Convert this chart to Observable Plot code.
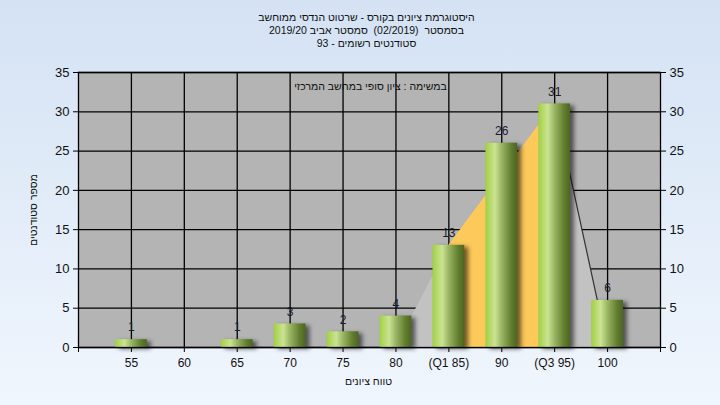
<!DOCTYPE html>
<html>
<head>
<meta charset="utf-8">
<script src="https://cdn.jsdelivr.net/npm/d3@7"></script>
<script src="https://cdn.jsdelivr.net/npm/@observablehq/plot@0.6"></script>
<style>
  html, body { margin: 0; padding: 0; background: #e4edf8; }
  #chart { width: 720px; height: 405px; }
</style>
</head>
<body>
<div id="chart"></div>
<script>
// ---- data ----
const grades = [55, 60, 65, 70, 75, 80, 85, 90, 95, 100];
const counts = [1, 0, 1, 3, 2, 4, 13, 26, 31, 6];
const gradeLabels = ["55", "60", "65", "70", "75", "80", "(Q1 85)", "90", "(Q3 95)", "100"];
const yTicks = [0, 5, 10, 15, 20, 25, 30, 35];
// frequency polygon (grade, count) outlining the shaded region
const polyGrades = [80, 85, 95, 100];
const polyCounts = [0, 13, 31, 0];
const q1Grade = 85, q3Grade = 95;
const titleLines = [
  "היסטוגרמת ציונים בקורס - שרטוט הנדסי ממוחשב",
  "בסמסטר  (02/2019)  סמסטר אביב 2019/20",
  "סטודנטים רשומים - 93"
];
const innerTitle = "במשימה : ציון סופי במחשב המרכזי";
const xTitle = "טווח ציונים";
const yTitle = "מספר סטודנטים";

const bars = grades.map((g, i) => ({grade: g, count: counts[i], label: gradeLabels[i]}));
const poly = polyGrades.map((g, i) => ({grade: g, count: polyCounts[i]}));
const leftPart = poly.filter(d => d.grade <= q1Grade);
const midPart = poly.filter(d => d.grade >= q1Grade && d.grade <= q3Grade);
const rightPart = poly.filter(d => d.grade >= q3Grade);
const labelFor = new Map(bars.map(d => [d.grade, d.label]));

const font = "'Liberation Sans', Arial, sans-serif";
const hebSize = 10.5;

const chart = Plot.plot({
  width: 720,
  height: 405,
  marginLeft: 78,
  marginRight: 60,
  marginTop: 72,
  marginBottom: 58,
  style: {background: "linear-gradient(#d4e2f4, #f0f6fd)", fontFamily: font, color: "#111", overflow: "visible"},
  x: {type: "linear", domain: [50, 105]},
  y: {domain: [0, 35]},
  marks: [
    Plot.frame({fill: "#b4b4b4", stroke: "none"}),
    Plot.ruleX(grades, {stroke: "#000", strokeWidth: 1.3}),
    Plot.ruleY(yTicks, {stroke: "#000", strokeWidth: 1.3}),
    Plot.areaY(leftPart, {x: "grade", y: "count", fill: "#c2c2c2"}),
    Plot.areaY(midPart, {x: "grade", y: "count", fill: "#fcc95a"}),
    Plot.areaY(rightPart, {x: "grade", y: "count", fill: "#c2c2c2"}),
    Plot.line(rightPart, {x: "grade", y: "count", stroke: "#333", strokeWidth: 1.2}),
    Plot.rectY(bars.filter(d => d.count > 0), {
      x1: d => d.grade - 1.5, x2: d => d.grade + 1.5, y1: 0, y2: "count",
      fill: "url(#barGrad)", ariaDescription: "bars"
    }),
    Plot.text(bars.filter(d => d.count > 0), {
      x: "grade", y: "count", text: d => String(d.count), dy: -12, fontSize: 12, fill: "#1a1a2a"
    }),
    Plot.frame({stroke: "#000", strokeWidth: 1.3, fill: "none"}),
    Plot.axisY({anchor: "left", ticks: yTicks, tickSize: 5, fontSize: 13, label: null, stroke: "#000"}),
    Plot.axisY({anchor: "right", ticks: yTicks, tickSize: 5, fontSize: 13, label: null, stroke: "#000"}),
    Plot.axisX({ticks: grades, tickFormat: d => labelFor.get(d), tickSize: 5, tickPadding: 6, fontSize: 12, label: null, stroke: "#000"}),
    Plot.axisX({ticks: [50, 105], tickFormat: () => "", tickSize: 5, label: null, stroke: "#000"}),
    Plot.text([innerTitle], {frameAnchor: "top", lineAnchor: "middle", textAnchor: "middle", text: d => d, dy: 14, dx: 1, fontSize: hebSize, fill: "#111"}),
    Plot.text([titleLines[0]], {frameAnchor: "top", lineAnchor: "middle", textAnchor: "middle", text: d => d, dy: -55, dx: -3, fontSize: hebSize, fill: "#111"}),
    Plot.text([titleLines[1]], {frameAnchor: "top", lineAnchor: "middle", textAnchor: "middle", text: d => d, dy: -42, dx: -3, fontSize: hebSize, fill: "#111"}),
    Plot.text([titleLines[2]], {frameAnchor: "top", lineAnchor: "middle", textAnchor: "middle", text: d => d, dy: -29, dx: -3, fontSize: hebSize, fill: "#111"}),
    Plot.text([xTitle], {frameAnchor: "bottom", lineAnchor: "middle", textAnchor: "middle", text: d => d, dy: 34, dx: -1, fontSize: hebSize, fill: "#111"}),
    Plot.text([yTitle], {frameAnchor: "left", lineAnchor: "middle", textAnchor: "middle", text: d => d, dx: -45, rotate: -90, fontSize: hebSize, fill: "#111"})
  ]
});

const svg = d3.select(chart);
const defs = svg.insert("defs", ":first-child");
const grad = defs.append("linearGradient").attr("id", "barGrad").attr("x1", "0").attr("x2", "1").attr("y1", "0").attr("y2", "0");
[["0%", "#a2cf44"], ["12%", "#b2d862"], ["30%", "#cbe393"], ["50%", "#9cb866"], ["80%", "#637f30"], ["100%", "#4c6620"]]
  .forEach(([o, c]) => grad.append("stop").attr("offset", o).attr("stop-color", c));
svg.selectAll("g[aria-description=bars]").style("filter", "drop-shadow(4px 2px 2px rgba(0,0,0,0.55))");
svg.selectAll("text").each(function () {
  if (/[\u0590-\u05FF]/.test(this.textContent)) d3.select(this).attr("direction", "rtl").style("direction", "rtl");
});
document.getElementById("chart").appendChild(chart);
</script>
</body>
</html>
